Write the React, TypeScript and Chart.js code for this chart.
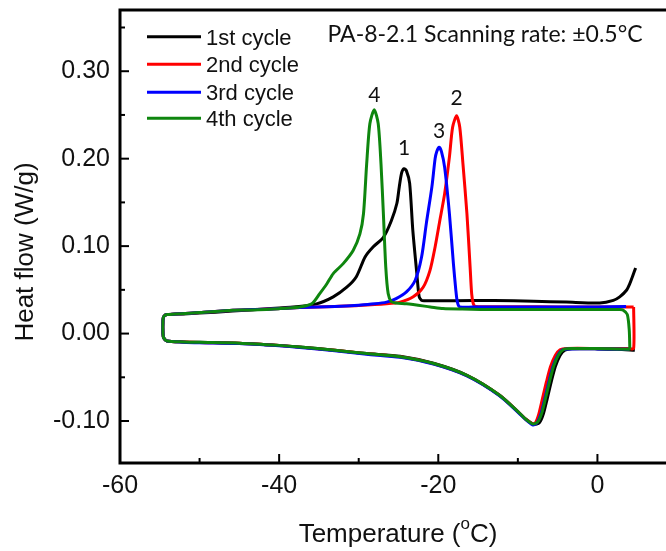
import React, { useEffect, useRef } from "react";
import { Chart, registerables } from "chart.js";

Chart.register(...registerables);

// DSC loops of PA-8-2.1: each cycle starts on the cooling branch (upper curve,
// exothermic crystallisation peak), turns at about -55 °C and returns along the
// heating branch (lower curve, melting trough).

// 1st cycle
const cycle1Temp = [
  4.8, 4.4, 4.07, 3.65, 2.8, 2.0, 0.3, -3.9, -8.0, -13.0,
  -18.0, -21.8, -22.1, -22.4, -22.7, -23.2, -23.6, -24.0, -24.3, -24.6,
  -24.9, -25.2, -25.9, -26.9, -28.2, -29.2, -30.3, -31.5, -33.2, -35.3,
  -38.6, -43.7, -48.0, -52.0, -54.1, -54.5, -54.6, -54.6, -54.5, -54.1,
  -52.0, -50.0, -45.0, -40.0, -37.4, -33.0, -29.0, -24.8, -20.6, -16.4,
  -12.3, -9.75, -9.0, -8.0, -7.3, -6.8, -6.3, -5.8, -5.3, -4.7,
  -4.1, -3.2, 0.0, 2.5, 4.7,
];
const cycle1Flow = [
  0.075, 0.065, 0.057, 0.0495, 0.042, 0.038, 0.035, 0.036, 0.037, 0.0378,
  0.0375, 0.0375, 0.038, 0.042, 0.069, 0.118, 0.172, 0.186, 0.1886, 0.184,
  0.168, 0.149, 0.129, 0.11, 0.099, 0.0876, 0.065, 0.053, 0.042, 0.034,
  0.03, 0.027, 0.0245, 0.0225, 0.0217, 0.0195, 0.015, 0.0, -0.005, -0.0085,
  -0.0095, -0.01, -0.011, -0.0135, -0.0153, -0.019, -0.0229, -0.026, -0.034, -0.0477,
  -0.0705, -0.0914, -0.098, -0.1037, -0.102, -0.092, -0.074, -0.055, -0.038, -0.025,
  -0.019, -0.0175, -0.0175, -0.018, -0.019,
];

// 2nd cycle
const cycle2Temp = [
  4.55, 3.5, 0.0, -5.0, -10.0, -15.3, -15.6, -15.8, -16.0, -16.4,
  -16.9, -17.3, -17.7, -18.2, -18.6, -19.2, -19.8, -20.4, -21.05, -21.9,
  -23.15, -24.8, -26.5, -30.0, -33.0, -37.4, -41.0, -45.8, -50.0, -54.1,
  -54.5, -54.6, -54.6, -54.5, -54.1, -52.0, -50.0, -45.0, -40.0, -37.4,
  -33.0, -29.0, -24.8, -20.6, -16.4, -12.3, -9.75, -9.0, -8.2, -7.8,
  -7.4, -6.9, -6.4, -5.9, -5.3, -4.7, -3.8, 0.0, 4.0, 4.55,
  4.55,
];
const cycle2Flow = [
  0.0304, 0.0305, 0.0305, 0.0305, 0.0308, 0.031, 0.034, 0.045, 0.076, 0.137,
  0.194, 0.236, 0.249, 0.236, 0.202, 0.16, 0.1295, 0.099, 0.072, 0.053,
  0.042, 0.036, 0.034, 0.032, 0.031, 0.0297, 0.028, 0.0266, 0.024, 0.0217,
  0.0195, 0.015, 0.0, -0.005, -0.0085, -0.0095, -0.0102, -0.0112, -0.0137, -0.0155,
  -0.0192, -0.0231, -0.0265, -0.0345, -0.048, -0.0705, -0.0914, -0.098, -0.103, -0.102,
  -0.093, -0.074, -0.055, -0.038, -0.025, -0.0185, -0.017, -0.017, -0.0172, -0.017,
  0.0304,
];

// 3rd cycle
const cycle3Temp = [
  3.6, 0.0, -5.0, -10.0, -15.0, -17.3, -17.6, -17.8, -18.1, -18.6,
  -19.2, -19.6, -19.9, -20.2, -20.4, -20.8, -21.5, -22.1, -22.9, -24.0,
  -25.3, -26.5, -28.0, -30.0, -33.0, -37.4, -41.0, -45.8, -50.0, -54.1,
  -54.5, -54.6, -54.6, -54.5, -54.1, -52.0, -50.0, -45.0, -40.0, -37.4,
  -33.0, -29.0, -24.8, -20.6, -16.4, -12.3, -9.75, -9.0, -8.1, -7.6,
  -7.1, -6.6, -6.1, -5.6, -5.0, -4.4, -3.5, 0.0, 4.0,
];
const cycle3Flow = [
  0.031, 0.0305, 0.0305, 0.0305, 0.0305, 0.0305, 0.036, 0.05, 0.08, 0.137,
  0.19, 0.208, 0.213, 0.208, 0.2, 0.168, 0.126, 0.0875, 0.061, 0.0476,
  0.04, 0.036, 0.034, 0.0325, 0.031, 0.0297, 0.028, 0.0266, 0.024, 0.0217,
  0.0195, 0.015, 0.0, -0.005, -0.0085, -0.0098, -0.0104, -0.0114, -0.014, -0.0158,
  -0.0196, -0.0236, -0.0272, -0.035, -0.0485, -0.0712, -0.092, -0.0985, -0.1045, -0.102,
  -0.092, -0.074, -0.055, -0.038, -0.025, -0.0185, -0.0175, -0.0175, -0.018,
];

// 4th cycle
const cycle4Temp = [
  4.07, 4.0, 3.75, 3.2, 2.8, -5.0, -12.3, -17.0, -19.4, -21.0,
  -24.0, -25.3, -25.9, -26.3, -26.6, -26.9, -27.2, -27.55, -28.05, -28.6,
  -29.0, -29.4, -29.85, -30.7, -31.95, -33.2, -34.0, -34.9, -35.9, -37.4,
  -40.0, -43.7, -45.8, -50.0, -54.1, -54.5, -54.6, -54.6, -54.5, -54.1,
  -52.0, -50.0, -45.0, -40.0, -37.4, -33.0, -29.0, -24.8, -20.6, -16.4,
  -12.3, -9.75, -9.0, -8.1, -7.5, -7.0, -6.5, -6.0, -5.5, -4.9,
  -4.3, -3.4, 0.0, 4.0, 4.07,
];
const cycle4Flow = [
  -0.017, 0.004, 0.022, 0.027, 0.0275, 0.0275, 0.0274, 0.028, 0.0286, 0.0305,
  0.034, 0.035, 0.0365, 0.0457, 0.076, 0.137, 0.194, 0.24, 0.256, 0.24,
  0.194, 0.137, 0.114, 0.095, 0.08, 0.0686, 0.057, 0.0457, 0.034, 0.0304,
  0.0285, 0.027, 0.0266, 0.024, 0.0217, 0.0195, 0.015, 0.0, -0.005, -0.0085,
  -0.0095, -0.01, -0.011, -0.0135, -0.0153, -0.019, -0.0229, -0.0265, -0.0342, -0.0478,
  -0.0705, -0.0914, -0.098, -0.1035, -0.101, -0.091, -0.073, -0.054, -0.037, -0.0245,
  -0.0185, -0.0172, -0.0172, -0.0178, -0.017,
];

const seriesNames = ["1st cycle", "2nd cycle", "3rd cycle", "4th cycle"];
const seriesColors = ["#000000", "#ff0000", "#0000ff", "#0e860e"];
const peakNumbers = ["1", "2", "3", "4"];

const xTickValues = [-60, -40, -20, 0];
const xMinorValues = [-50, -30, -10];
const yTickValues = [-0.1, 0.0, 0.1, 0.2, 0.3];
const yMinorValues = [-0.05, 0.05, 0.15, 0.25, 0.35];

const captionText = "PA-8-2.1 Scanning rate: \u00b10.5\u00b0C";

const AXIS_FONT = "'Liberation Sans', Arial, sans-serif";
const NOTE_FONT = "Lato, 'Open Sans', sans-serif";

function toPoints(temps: number[], flows: number[]) {
  return temps.map((t, i) => ({ x: t, y: flows[i] }));
}

const cycles = [
  toPoints(cycle1Temp, cycle1Flow),
  toPoints(cycle2Temp, cycle2Flow),
  toPoints(cycle3Temp, cycle3Flow),
  toPoints(cycle4Temp, cycle4Flow),
];

// pixel offset of each peak number above its peak
const peakLabelLift = [14, 11, 9, 8];

const decorPlugin = {
  id: "decor",
  afterDatasetsDraw(chart: any) {
    const { ctx, chartArea: a, scales } = chart;
    const xs = scales.x;
    const ys = scales.y;
    ctx.save();
    ctx.strokeStyle = "#000";
    ctx.lineWidth = 3;
    ctx.strokeRect(a.left, a.top, a.right - a.left, a.bottom - a.top);

    // inward tick marks
    ctx.lineWidth = 2;
    const seg = (x1: number, y1: number, x2: number, y2: number) => {
      ctx.beginPath();
      ctx.moveTo(x1, y1);
      ctx.lineTo(x2, y2);
      ctx.stroke();
    };
    xTickValues.forEach((v) => {
      const px = xs.getPixelForValue(v);
      seg(px, a.bottom, px, a.bottom - 9);
    });
    xMinorValues.forEach((v) => {
      const px = xs.getPixelForValue(v);
      seg(px, a.bottom, px, a.bottom - 5);
    });
    yTickValues.forEach((v) => {
      const py = ys.getPixelForValue(v);
      seg(a.left, py, a.left + 9, py);
    });
    yMinorValues.forEach((v) => {
      const py = ys.getPixelForValue(v);
      seg(a.left, py, a.left + 5, py);
    });
    ctx.restore();
  },
  afterDraw(chart: any) {
    const { ctx, scales } = chart;
    const xs = scales.x;
    const ys = scales.y;
    ctx.save();
    ctx.fillStyle = "#111";

    // legend
    const rows = [36.7, 64.3, 92.3, 118.3];
    seriesNames.forEach((name, i) => {
      ctx.strokeStyle = seriesColors[i];
      ctx.lineWidth = 3;
      ctx.beginPath();
      ctx.moveTo(147, rows[i]);
      ctx.lineTo(201, rows[i]);
      ctx.stroke();
      ctx.font = `22px ${AXIS_FONT}`;
      ctx.textAlign = "left";
      ctx.textBaseline = "alphabetic";
      ctx.fillText(name, 206, rows[i] + 8);
    });

    // caption
    ctx.font = `23px ${NOTE_FONT}`;
    ctx.textAlign = "center";
    ctx.fillText(captionText, 485, 41.7);

    // peak numbers
    ctx.font = `21px ${NOTE_FONT}`;
    cycles.forEach((pts, i) => {
      let top = pts[0];
      pts.forEach((p) => {
        if (p.y > top.y) top = p;
      });
      const px = xs.getPixelForValue(top.x);
      const py = ys.getPixelForValue(top.y);
      ctx.fillText(peakNumbers[i], px, py - peakLabelLift[i]);
    });

    // x title with superscript o
    ctx.textAlign = "left";
    const big = `26px ${AXIS_FONT}`;
    const small = `17px ${AXIS_FONT}`;
    const partA = "Temperature (";
    const partB = "o";
    const partC = "C)";
    ctx.font = big;
    const wA = ctx.measureText(partA).width;
    const wC = ctx.measureText(partC).width;
    ctx.font = small;
    const wB = ctx.measureText(partB).width;
    let x0 = 398 - (wA + wB + wC) / 2;
    const base = 541.7;
    ctx.font = big;
    ctx.fillText(partA, x0, base);
    x0 += wA;
    ctx.font = small;
    ctx.fillText(partB, x0, base - 13);
    x0 += wB;
    ctx.font = big;
    ctx.fillText(partC, x0, base);

    // y title
    ctx.translate(33.3, 252);
    ctx.rotate(-Math.PI / 2);
    ctx.textAlign = "center";
    ctx.font = big;
    ctx.fillText("Heat flow (W/g)", 0, 0);
    ctx.restore();
  },
};

export default function App() {
  const ref = useRef<HTMLCanvasElement>(null);

  useEffect(() => {
    if (!ref.current) return;
    const chart = new Chart(ref.current, {
      type: "scatter",
      data: {
        datasets: cycles.map((pts, i) => ({
          label: seriesNames[i],
          data: pts,
          showLine: true,
          borderColor: seriesColors[i],
          backgroundColor: seriesColors[i],
          borderWidth: 3,
          pointRadius: 0,
          tension: 0.25,
          order: 4 - i,
        })),
      },
      options: {
        responsive: false,
        animation: false,
        devicePixelRatio: 1,
        layout: { padding: { top: 10, right: 3, left: 0, bottom: 0 } },
        plugins: {
          legend: { display: false },
          tooltip: { enabled: false },
        },
        scales: {
          x: {
            type: "linear",
            min: -60,
            max: 10,
            afterBuildTicks: (s: any) => {
              s.ticks = xTickValues.map((v) => ({ value: v }));
            },
            afterFit: (s: any) => {
              s.height = 88;
              s.paddingLeft = 0;
              s.paddingRight = 0;
            },
            ticks: {
              font: { family: AXIS_FONT, size: 25 },
              color: "#111",
              padding: 8,
              maxRotation: 0,
              autoSkip: false,
              callback: (v: any) => String(v),
            },
            grid: { display: false, drawTicks: false },
            border: { display: false },
          },
          y: {
            type: "linear",
            min: -0.148,
            max: 0.37,
            afterBuildTicks: (s: any) => {
              s.ticks = yTickValues.map((v) => ({ value: v }));
            },
            afterFit: (s: any) => {
              s.width = 120;
              s.paddingTop = 0;
              s.paddingBottom = 0;
            },
            ticks: {
              font: { family: AXIS_FONT, size: 25 },
              color: "#111",
              padding: 10,
              autoSkip: false,
              callback: (v: any) => Number(v).toFixed(2),
            },
            grid: { display: false, drawTicks: false },
            border: { display: false },
          },
        },
      },
      plugins: [decorPlugin],
    });
    return () => chart.destroy();
  }, []);

  return (
    <div
      style={{
        position: "fixed",
        left: 0,
        top: 0,
        width: 666,
        height: 551,
        overflow: "hidden",
        background: "#fff",
      }}
    >
      <canvas ref={ref} width={680} height={551} style={{ display: "block" }} />
    </div>
  );
}
